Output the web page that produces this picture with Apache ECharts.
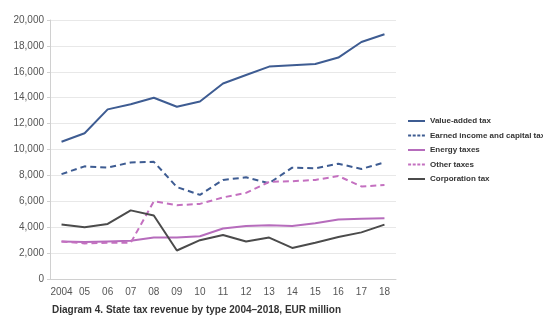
<!DOCTYPE html>
<html>
<head>
<meta charset="utf-8">
<script src="https://cdn.jsdelivr.net/npm/echarts@6/dist/echarts.min.js"></script>
<style>
  html, body { margin: 0; padding: 0; background: #fff; }
  #chart { width: 543px; height: 318px; }
</style>
</head>
<body>
<div id="chart"></div>
<script>
// years on the x axis
var years = ['2004', '05', '06', '07', '08', '09', '10', '11', '12', '13', '14', '15', '16', '17', '18'];

// EUR million
var valueAdded = [10600, 11250, 13100, 13500, 14000, 13300, 13700, 15100, 15750, 16400, 16500, 16600, 17100, 18300, 18900];
var earnedIncome = [8100, 8700, 8600, 9000, 9050, 7100, 6500, 7650, 7850, 7400, 8600, 8550, 8900, 8500, 9000];
var energy = [2900, 2850, 2900, 2950, 3200, 3200, 3300, 3900, 4100, 4150, 4100, 4300, 4600, 4650, 4700];
var other = [2900, 2750, 2800, 2800, 6000, 5700, 5800, 6300, 6650, 7500, 7550, 7650, 7950, 7150, 7250];
var corporation = [4200, 4000, 4250, 5300, 4900, 2200, 3000, 3400, 2900, 3200, 2400, 2800, 3250, 3600, 4200];

var names = ['Value-added tax', 'Earned income and capital tax', 'Energy taxes', 'Other taxes', 'Corporation tax'];

// legend icons: a short bar, or four short dashes
var solidIcon = 'path://M0,0h17v2h-17z';
var dashIcon = 'path://M0,0h3v2h-3z M4.6,0h3v2h-3z M9.2,0h3v2h-3z M13.8,0h3v2h-3z';

function lineSeries(name, data, color, dashed) {
    return {
        name: name,
        type: 'line',
        data: data,
        symbol: 'none',
        lineStyle: {
            color: color,
            width: 2,
            type: dashed ? [6, 4] : 'solid'
        },
        itemStyle: { color: color }
    };
}

var myChart = echarts.init(document.getElementById('chart'));
var option = {
    animation: false,
    textStyle: { fontFamily: 'Liberation Sans, sans-serif' },
    grid: { left: 50, right: 147, top: 20, bottom: 39 },
    title: {
        text: 'Diagram 4. State tax revenue by type 2004\u20132018, EUR million',
        left: 52,
        top: 305,
        padding: 0,
        textStyle: { fontSize: 10, fontWeight: 'bold', color: '#333' }
    },
    legend: {
        orient: 'vertical',
        left: 403,
        top: 111,
        itemWidth: 17,
        itemHeight: 2,
        itemGap: 4.5,
        itemStyle: { borderWidth: 0 },
        data: [
            { name: names[0], icon: solidIcon },
            { name: names[1], icon: dashIcon },
            { name: names[2], icon: solidIcon },
            { name: names[3], icon: dashIcon },
            { name: names[4], icon: solidIcon }
        ],
        textStyle: {
            fontFamily: '"Liberation Sans Narrow", "Liberation Sans", sans-serif',
            fontWeight: 'bold',
            fontSize: 8,
            lineHeight: 10,
            color: '#333'
        }
    },
    xAxis: {
        type: 'category',
        data: years,
        boundaryGap: true,
        axisLine: { lineStyle: { color: '#d0d0d0' } },
        axisTick: { show: false },
        axisLabel: { color: '#555', fontSize: 10, margin: 8, interval: 0 }
    },
    yAxis: {
        type: 'value',
        min: 0,
        max: 20000,
        interval: 2000,
        axisLine: { show: true, lineStyle: { color: '#d0d0d0' } },
        axisTick: { show: true, length: 3, lineStyle: { color: '#d0d0d0' } },
        axisLabel: {
            color: '#555',
            fontSize: 10,
            margin: 6,
            formatter: function (v) { return v.toLocaleString('en-US'); }
        },
        splitLine: { lineStyle: { color: '#e8e8e8' } }
    },
    series: [
        lineSeries(names[0], valueAdded, '#3e5c92', false),
        lineSeries(names[1], earnedIncome, '#3e5c92', true),
        lineSeries(names[2], energy, '#b66cbc', false),
        lineSeries(names[3], other, '#c470c0', true),
        lineSeries(names[4], corporation, '#4b4b4b', false)
    ]
};
myChart.setOption(option, true);
</script>
</body>
</html>
